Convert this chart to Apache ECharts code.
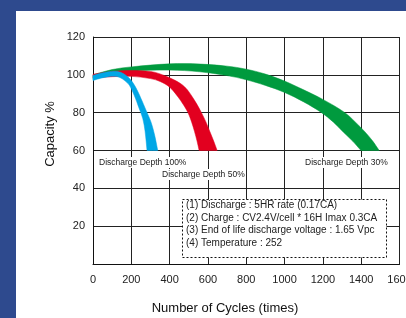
<!DOCTYPE html>
<html>
<head>
<meta charset="utf-8">
<script src="https://cdn.jsdelivr.net/npm/echarts@6/dist/echarts.min.js"></script>
<style>
  html, body { margin: 0; padding: 0; }
  #chart { width: 406px; height: 318px; }
</style>
</head>
<body>
<div id="chart"></div>
<script>
// 坐标轴
var xTicks = [0, 200, 400, 600, 800, 1000, 1200, 1400, 1600]
var yTicks = [0, 20, 40, 60, 80, 100, 120]

// 各放电深度曲线带 (外边缘 / 内边缘)，[循环次数, 容量%]
var blueOuter = [[0, 99.7], [40, 100.8], [80, 101.6], [113, 101.9], [145, 101.3], [175, 99.5], [200, 97], [225, 93], [251, 87.4], [278, 81], [303, 75], [322, 68], [338, 60]]
var blueInner = [[0, 97], [40, 98.2], [80, 99], [113, 99.2], [140, 98.6], [165, 97], [190, 94.5], [216, 89], [240, 82.5], [260, 76.8], [272, 70], [282, 60]]

var redOuter = [[0, 100.3], [100, 101.8], [200, 102.3], [300, 101.8], [350, 100.5], [420, 97.5], [479, 93.6], [530, 86.5], [566, 80], [590, 75], [610, 70], [630, 65], [648, 60]]
var redInner = [[0, 98.3], [100, 99], [200, 99.2], [300, 98], [350, 96.5], [400, 93.5], [444, 88.3], [470, 84.5], [496, 80], [515, 75], [530, 70], [543, 65], [554, 60]]

var greenOuter = [[0, 100], [100, 102.8], [200, 104.2], [400, 105.8], [560, 105.7], [700, 104.6], [800, 103], [900, 100.4], [1000, 96.7], [1080, 93], [1200, 87], [1315, 80], [1370, 75], [1420, 69.8], [1460, 65], [1494, 60]]
var greenInner = [[0, 97.5], [100, 100], [200, 101.8], [400, 102.5], [557, 101.6], [700, 99.6], [800, 97.4], [900, 94.4], [1000, 90.7], [1100, 85.7], [1193, 80], [1255, 75], [1306, 69.8], [1355, 65], [1399, 60]]

var depthLabels = ['Discharge Depth 100%', 'Discharge Depth 50%', 'Discharge Depth 30%']
var noteLines = [
    '(1) Discharge : 5HR rate (0.17CA)',
    '(2) Charge : CV2.4V/cell * 16H Imax 0.3CA',
    '(3) End of life discharge voltage : 1.65 Vpc',
    '(4) Temperature : 252'
]

// 把外边缘和内边缘拼成一个多边形, 两端点重复一次保持尖角
function bandSeries(outer, inner, color) {
    return {
        type: 'custom',
        data: [[0, 0]],
        renderItem: function (params, api) {
            var pts = []
            var o = outer.map(function (p) { return api.coord(p) })
            var n = inner.slice().reverse().map(function (p) { return api.coord(p) })
            pts.push(o[0])
            pts = pts.concat(o)
            pts.push(o[o.length - 1])
            pts.push(n[0])
            pts = pts.concat(n)
            pts.push(n[n.length - 1])
            return {
                type: 'polygon',
                shape: { points: pts, smooth: 0.35 },
                style: { fill: color, stroke: color, lineWidth: 0.5 }
            }
        },
        silent: true,
        z: 3
    }
}

var chart = echarts.init(document.getElementById('chart'))
var font = 'Liberation Sans, Arial, sans-serif'

var noteTexts = noteLines.map(function (t, i) {
    return {
        type: 'text',
        x: 186,
        y: 205.5 + i * 12.6,
        z: 21,
        style: { text: t, font: '10px ' + font, fill: '#222', verticalAlign: 'middle' }
    }
})

var option = {
    backgroundColor: '#2e4a8e',
    animation: false,
    grid: { left: 93, top: 37, right: 6.5, bottom: 54, outerBoundsMode: 'none' },
    xAxis: {
        type: 'value',
        min: xTicks[0],
        max: xTicks[xTicks.length - 1],
        interval: 200,
        axisLine: { show: true, lineStyle: { color: '#111', width: 1 } },
        axisTick: { show: false },
        axisLabel: {
            color: '#222', fontSize: 11, fontFamily: font, margin: 10,
            formatter: function (v) { return String(v) }
        },
        splitLine: { show: true, lineStyle: { color: '#222', width: 1 } }
    },
    yAxis: {
        type: 'value',
        min: yTicks[0],
        max: yTicks[yTicks.length - 1],
        interval: 20,
        axisLine: { show: true, lineStyle: { color: '#111', width: 1 } },
        axisTick: { show: false },
        axisLabel: {
            color: '#222', fontSize: 11, fontFamily: font, margin: 8,
            formatter: function (v) { return v === 0 ? '' : String(v) }
        },
        splitLine: { show: true, lineStyle: { color: '#222', width: 1 } }
    },
    graphic: [
        // 白色底板
        {
            type: 'rect', left: 16, top: 11, z: -10,
            shape: { width: 390, height: 307 },
            style: { fill: '#ffffff' }
        },
        {
            type: 'text', left: 98, top: 157, z: 20,
            style: { text: depthLabels[0], font: '8.5px ' + font, fill: '#222', backgroundColor: '#fff', padding: [1, 1] }
        },
        {
            type: 'text', left: 161, top: 169, z: 20,
            style: { text: depthLabels[1], font: '8.5px ' + font, fill: '#222', backgroundColor: '#fff', padding: [1, 1] }
        },
        {
            type: 'text', left: 304, top: 157, z: 20,
            style: { text: depthLabels[2], font: '8.5px ' + font, fill: '#222', backgroundColor: '#fff', padding: [1, 1] }
        },
        // 说明框
        {
            type: 'rect', left: 182, top: 199, z: 20,
            shape: { width: 204, height: 58 },
            style: { fill: '#fff', stroke: '#111', lineWidth: 1, lineDash: [2, 2] }
        }
    ].concat(noteTexts).concat([
        {
            type: 'text', x: 50, y: 134, z: 20, rotation: Math.PI / 2,
            style: { text: 'Capacity %', font: '13px ' + font, fill: '#111', align: 'center', verticalAlign: 'middle' }
        },
        {
            type: 'text', x: 225, y: 308, z: 20,
            style: { text: 'Number of Cycles (times)', font: '13px ' + font, fill: '#111', align: 'center', verticalAlign: 'middle' }
        }
    ]),
    series: [
        bandSeries(greenOuter, greenInner, '#009a3e'),
        bandSeries(redOuter, redInner, '#e2001f'),
        bandSeries(blueOuter, blueInner, '#00a7e6')
    ]
}
chart.setOption(option)
</script>
</body>
</html>
